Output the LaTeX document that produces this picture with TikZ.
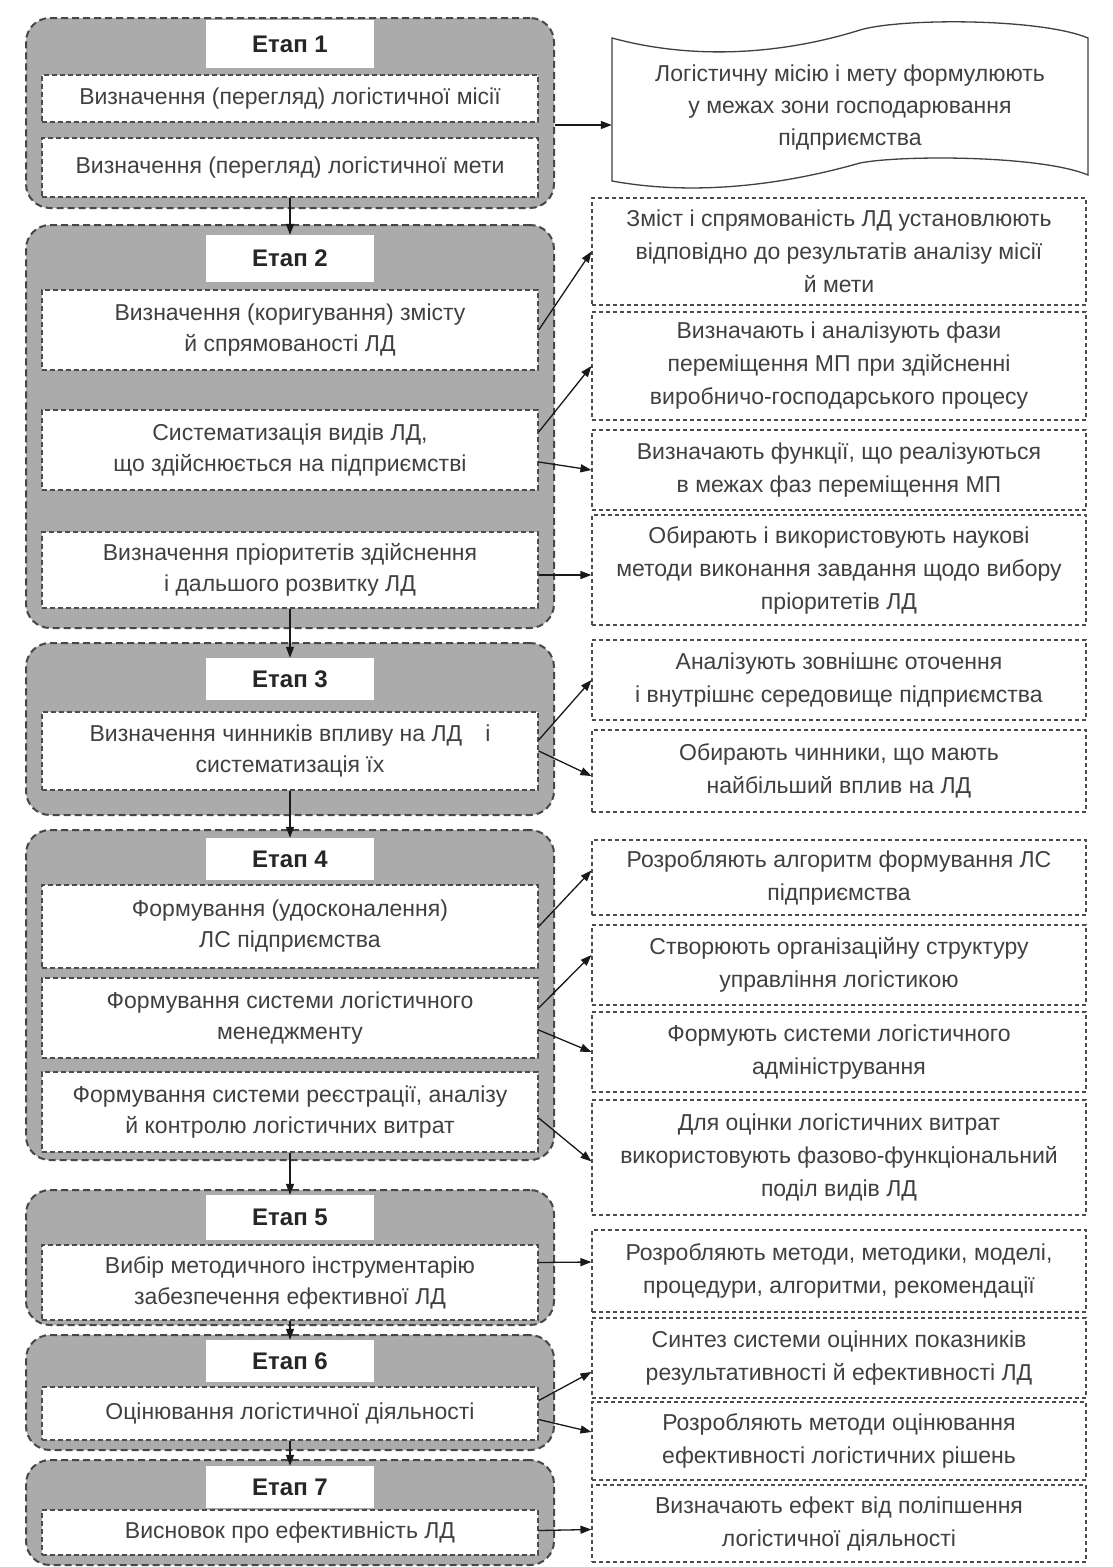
\documentclass[tikz,border=0pt]{standalone}
\usepackage{fontspec}
\setmainfont{Liberation Sans}
\usetikzlibrary{arrows.meta}
\tikzset{>/.tip={Triangle[length=11pt,width=8pt]},
  stage/.style={draw=black!72, line width=2pt, dash pattern=on 7pt off 4pt, fill=black!33, rounded corners=24pt, minimum width=528pt},
  head/.style={fill=white, minimum width=168pt, font=\fontsize{24}{28}\selectfont\bfseries, text=black!85},
  task/.style={draw=black!70, line width=1.4pt, dash pattern=on 5pt off 3pt, fill=white, minimum width=496pt, align=center, font=\fontsize{23}{31}\selectfont, text=black!75},
  result/.style={draw=black!70, line width=1.1pt, dash pattern=on 4pt off 3pt, fill=white, minimum width=494pt, align=center, font=\fontsize{23}{33}\selectfont, text=black!75},
  link/.style={->, line width=1.3pt, black!90}}

\begin{document}
\begin{tikzpicture}[x=1pt, y=-1pt]
\useasboundingbox (0,0) rectangle (1112,1567);
\fill[white] (0,0) rectangle (1112,1567);

\node[stage, minimum height=190pt] (g1) at (290,113) {};
\node[stage, minimum height=403pt] (g2) at (290,426.5) {};
\node[stage, minimum height=172pt] (g3) at (290,729) {};
\node[stage, minimum height=330pt] (g4) at (290,995) {};
\node[stage, minimum height=135pt] (g5) at (290,1257.5) {};
\node[stage, minimum height=115pt] (g6) at (290,1392.5) {};
\node[stage, minimum height=105pt] (g7) at (290,1512.5) {};

\node[head, minimum height=48pt] (h1) at (290,44) {Етап 1};
\node[head, minimum height=47pt] (h2) at (290,258.5) {Етап 2};
\node[head, minimum height=42pt] (h3) at (290,679) {Етап 3};
\node[head, minimum height=42pt] (h4) at (290,859) {Етап 4};
\node[head, minimum height=45pt] (h5) at (290,1217.5) {Етап 5};
\node[head, minimum height=42pt] (h6) at (290,1361) {Етап 6};
\node[head, minimum height=42pt] (h7) at (290,1487) {Етап 7};

\node[task, minimum height=47pt] (b1a) at (290,98.5) {Визначення (перегляд) логістичної місії};
\node[task, minimum height=59pt] (b1b) at (290,167.5) {Визначення (перегляд) логістичної мети};
\node[task, minimum height=80pt] (b2a) at (290,330) {Визначення (коригування) змісту\\й спрямованості ЛД};
\node[task, minimum height=80pt] (b2b) at (290,450) {Систематизація видів ЛД,\\що здійснюється на підприємстві};
\node[task, minimum height=76pt] (b2c) at (290,570) {Визначення пріоритетів здійснення\\і дальшого розвитку ЛД};
\node[task, minimum height=78pt] (b3) at (290,751) {Визначення чинників впливу на ЛД\quad і\\систематизація їх};
\node[task, minimum height=83pt] (b4a) at (290,926.5) {Формування (удосконалення)\\ЛС підприємства};
\node[task, minimum height=80pt] (b4b) at (290,1018) {Формування системи логістичного\\менеджменту};
\node[task, minimum height=80pt] (b4c) at (290,1112) {Формування системи реєстрації, аналізу\\й контролю логістичних витрат};
\node[task, minimum height=75pt] (b5) at (290,1282.5) {Вибір методичного інструментарію\\забезпечення ефективної ЛД};
\node[task, minimum height=53pt] (b6) at (290,1413.5) {Оцінювання логістичної діяльності};
\node[task, minimum height=45pt] (b7) at (290,1532.5) {Висновок про ефективність ЛД};

\draw[draw=black!75, line width=1.3pt, fill=white] (612,38) .. controls (700,62) and (790,52) .. (860,30) .. controls (900,18) and (1040,18) .. (1088,38) -- (1088,175) .. controls (1040,155) and (900,155) .. (860,163) .. controls (790,183) and (700,197) .. (612,181) -- cycle;
\node[align=center, font=\fontsize{23}{32}\selectfont, text=black!75, minimum width=476pt, minimum height=140pt] (mission) at (850,108) {Логістичну місію і мету формулюють\\у межах зони господарювання\\підприємства};

\node[result, minimum height=107pt] (r1) at (839,251.5) {Зміст і спрямованість ЛД установлюють\\відповідно до результатів аналізу місії\\й мети};
\node[result, minimum height=108pt] (r2) at (839,366) {Визначають і аналізують фази\\переміщення МП при здійсненні\\виробничо-господарського процесу};
\node[result, minimum height=80pt] (r3) at (839,470) {Визначають функції, що реалізуються\\в межах фаз переміщення МП};
\node[result, minimum height=110pt] (r4) at (839,570) {Обирають і використовують наукові\\методи виконання завдання щодо вибору\\пріоритетів ЛД};
\node[result, minimum height=80pt] (r5) at (839,680) {Аналізують зовнішнє оточення\\і внутрішнє середовище підприємства};
\node[result, minimum height=82pt] (r6) at (839,771) {Обирають чинники, що мають\\найбільший вплив на ЛД};
\node[result, minimum height=75pt] (r7) at (839,877.5) {Розробляють алгоритм формування ЛС\\підприємства};
\node[result, minimum height=80pt] (r8) at (839,965) {Створюють організаційну структуру\\управління логістикою};
\node[result, minimum height=80pt] (r9) at (839,1052) {Формують системи логістичного\\адміністрування};
\node[result, minimum height=115pt] (r10) at (839,1157.5) {Для оцінки логістичних витрат\\використовують фазово-функціональний\\поділ видів ЛД};
\node[result, minimum height=82pt] (r11) at (839,1271) {Розробляють методи, методики, моделі,\\процедури, алгоритми, рекомендації};
\node[result, minimum height=80pt] (r12) at (839,1358) {Синтез системи оцінних показників\\результативності й ефективності ЛД};
\node[result, minimum height=78pt] (r13) at (839,1441) {Розробляють методи оцінювання\\ефективності логістичних рішень};
\node[result, minimum height=77pt] (r14) at (839,1523.5) {Визначають ефект від поліпшення\\логістичної діяльності};

\draw[link] (b1b) -- (h2);
\draw[link] (b2c) -- (h3);
\draw[link] (b3) -- (h4);
\draw[link] (b4c) -- (h5);
\draw[link] (b5) -- (h6);
\draw[link] (b6) -- (h7);

\draw[link] ([yshift=-12pt]g1.east) -- ([yshift=-17pt]mission.west);
\draw[link] (b2a.east) -- (r1.west);
\draw[link] ([yshift=18pt]b2b.east) -- (r2.west);
\draw[link] ([yshift=-12pt]b2b.east) -- (r3.west);
\draw[link] ([yshift=-5pt]b2c.east) -- ([yshift=-5pt]r4.west);
\draw[link] ([yshift=11pt]b3.east) -- (r5.west);
\draw[link] (b3.east) -- ([yshift=-5pt]r6.west);
\draw[link] (b4a.east) -- ([yshift=7pt]r7.west);
\draw[link] ([yshift=10pt]b4b.east) -- ([yshift=10pt]r8.west);
\draw[link] ([yshift=-12pt]b4b.east) -- (r9.west);
\draw[link] ([yshift=-6pt]b4c.east) -- ([yshift=-4pt]r10.west);
\draw[link] ([yshift=20pt]b5.east) -- ([yshift=9pt]r11.west);
\draw[link] ([yshift=13pt]b6.east) -- ([yshift=-14pt]r12.west);
\draw[link] ([yshift=-6pt]b6.east) -- ([yshift=9pt]r13.west);
\draw[link] ([yshift=2pt]b7.east) -- ([yshift=-6pt]r14.west);
\end{tikzpicture}
\end{document}
